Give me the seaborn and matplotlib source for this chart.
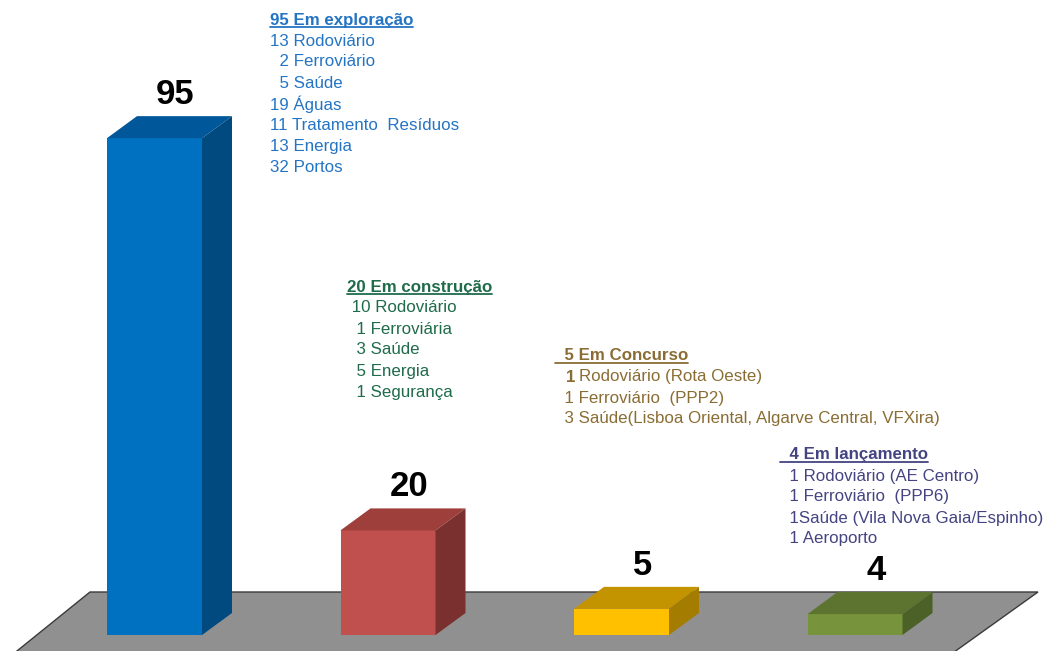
import matplotlib
matplotlib.use('Agg')
import matplotlib.pyplot as plt
import seaborn as sns
from matplotlib.patches import Polygon
from matplotlib.lines import Line2D
from matplotlib.transforms import IdentityTransform

# Dados
categories = ['Em exploração', 'Em construção', 'Em Concurso', 'Em lançamento']
values = [95, 20, 5, 4]
front_colors = ['#0070c0', '#c0504d', '#ffc000', '#77933c']
top_colors = ['#00579a', '#9e3f3c', '#c49400', '#5d7430']
side_colors = ['#004a80', '#7a302e', '#a37c00', '#4c6128']
text_colors = ['#2474c4', '#1f6b4a', '#8a6d34', '#444482']

titles = ['95 Em exploração', '20 Em construção', '  5 Em Concurso', '  4 Em lançamento']
details = [
    ['13 Rodoviário', '  2 Ferroviário', '  5 Saúde', '19 Águas',
     '11 Tratamento  Resíduos', '13 Energia', '32 Portos'],
    [' 10 Rodoviário', '  1 Ferroviária', '  3 Saúde', '  5 Energia', '  1 Segurança'],
    ['  1 Rodoviário (Rota Oeste)', '  1 Ferroviário  (PPP2)',
     '  3 Saúde(Lisboa Oriental, Algarve Central, VFXira)'],
    ['  1 Rodoviário (AE Centro)', '  1 Ferroviário  (PPP6)',
     '  1Saúde (Vila Nova Gaia/Espinho)', '  1 Aeroporto'],
]
# posicao dos blocos de texto (px a partir do canto superior esquerdo)
block_pos = [(270, 20), (347, 287), (555, 356), (780, 455)]

W, H = 1056, 651
X0, XSTEP = 154.5, 233.5   # centro da primeira barra e espacamento (px)
Y0, YSCALE = 635, 5.23     # base das barras (px) e px por unidade
FS = 12.2


def px2x(px):
    return (px - X0) / XSTEP


def py2y(py):
    return (Y0 - py) / YSCALE


sns.set_theme(style='white')
plt.rcParams['font.family'] = ['Liberation Sans', 'DejaVu Sans']

fig = plt.figure(figsize=(W / 100, H / 100), dpi=100)
ax = fig.add_axes([0, 0, 1, 1])

df_bars = {'cat': categories, 'val': values}
sns.barplot(data=df_bars, x='cat', y='val', hue='cat', palette=front_colors,
            saturation=1, width=95 / XSTEP, linewidth=0, legend=False,
            ax=ax, zorder=3)

ax.set_xlim(px2x(0), px2x(W))
ax.set_ylim(py2y(H), py2y(0))
ax.axis('off')

# Chao cinzento
floor = Polygon([(px2x(90), py2y(592)), (px2x(1038), py2y(592)),
                 (px2x(950), py2y(655)), (px2x(12), py2y(655))],
                closed=True, facecolor='#909090', edgecolor='#3a3a3a',
                linewidth=1.0, zorder=1)
ax.add_patch(floor)

# Faces 3D (topo e lateral)
dx = 30 / XSTEP
dy = 22 / YSCALE
for i, bar in enumerate(ax.patches[:len(values)]):
    x0 = bar.get_x()
    x1 = x0 + bar.get_width()
    h = bar.get_height()
    top = Polygon([(x0, h), (x1, h), (x1 + dx, h + dy), (x0 + dx, h + dy)],
                  closed=True, facecolor=top_colors[i], edgecolor='none', zorder=3)
    side = Polygon([(x1, 0), (x1, h), (x1 + dx, h + dy), (x1 + dx, dy)],
                   closed=True, facecolor=side_colors[i], edgecolor='none', zorder=3)
    ax.add_patch(top)
    ax.add_patch(side)
    ax.text(x0 + bar.get_width() / 2 + dx * 0.7, h + dy + 5 / YSCALE, str(values[i]),
            ha='center', va='bottom', fontsize=25, fontweight='bold',
            color='black', zorder=5)

fig.canvas.draw()
renderer = fig.canvas.get_renderer()

# Blocos de texto
title_texts = []
for i in range(len(titles)):
    bx, by = block_pos[i]
    t = fig.text(bx / W, 1 - by / H, titles[i], ha='left', va='center',
                 fontsize=FS, fontweight='bold', color=text_colors[i])
    title_texts.append((t, text_colors[i]))
    for j, line in enumerate(details[i]):
        ly = by + 21 * (j + 1)
        if i == 2 and j == 0:
            # "1" em negrito, resto normal
            b = fig.text((bx + 11) / W, 1 - ly / H, '1', ha='left', va='center',
                         fontsize=FS, fontweight='bold', color=text_colors[i])
            bb = b.get_window_extent(renderer)
            fig.text((bb.x1 + 4) / W, 1 - ly / H, line.strip()[2:], ha='left',
                     va='center', fontsize=FS, color=text_colors[i])
            continue
        fig.text(bx / W, 1 - ly / H, line, ha='left', va='center',
                 fontsize=FS, color=text_colors[i])

# Sublinhado dos titulos
for t, c in title_texts:
    bb = t.get_window_extent(renderer)
    fig.add_artist(Line2D([bb.x0, bb.x1], [bb.y0 + 1, bb.y0 + 1],
                          transform=IdentityTransform(), color=c, linewidth=1.3))

fig.savefig('out.png', dpi=100)
plt.close(fig)
